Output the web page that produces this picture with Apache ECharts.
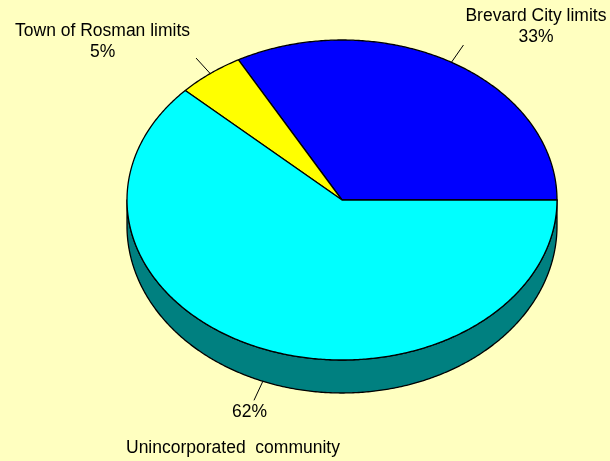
<!DOCTYPE html>
<html><head><meta charset="utf-8">
<script src="https://cdn.jsdelivr.net/npm/echarts@6/dist/echarts.min.js"></script>
<style>html,body{margin:0;padding:0;background:#FFFFC0}#c{width:610px;height:461px}</style>
</head><body><div id="c"></div>
<script>
const categories = ['Brevard City limits', 'Town of Rosman limits', 'Unincorporated  community'];
const values = [33, 5, 62];
const topColors = ['#0000FF', '#FFFF00', '#00FFFF'];
const sideColors = ['#000080', '#808000', '#008080'];

// top ellipse and (slightly larger, lower) bottom ellipse of the 3D pie
const G = { cx: 342, cy: 200, rx: 215, ry: 160, by: 226, bry: 167, leader: 21 };
const FONT = '17.5px "Liberation Sans", Arial, sans-serif';
const LH = 21;

const meas = document.createElement('canvas').getContext('2d');
meas.font = FONT;
const tw = s => meas.measureText(s).width;

function renderItem(params, api) {
  const i = params.dataIndex;
  const v = api.value(0);
  const total = values.reduce((a, b) => a + b, 0);
  let before = 0;
  for (let k = 0; k < i; k++) before += values[k];
  const a0 = before / total * 360, a1 = (before + v) / total * 360;
  const rad = d => d * Math.PI / 180;
  const pt = d => [G.cx + G.rx * Math.cos(rad(d)), G.cy - G.ry * Math.sin(rad(d))];
  const bpt = d => [G.cx + G.rx * Math.cos(rad(d)), G.by - G.bry * Math.sin(rad(d))];
  const children = [];
  // side (front, visible between 180 and 360 deg)
  const s0 = Math.max(a0, 180), s1 = Math.min(a1, 360);
  if (s1 > s0) {
    const pts = [];
    for (let d = s0; d < s1; d += 0.5) pts.push(pt(d));
    pts.push(pt(s1));
    for (let d = s1; d > s0; d -= 0.5) pts.push(bpt(d));
    pts.push(bpt(s0));
    children.push({ type: 'polygon', z2: 1, shape: { points: pts },
      style: { fill: sideColors[i], stroke: '#000', lineWidth: 1.3, lineJoin: 'round' } });
  }
  // top
  const top = [[G.cx, G.cy]];
  for (let d = a0; d < a1; d += 0.5) top.push(pt(d));
  top.push(pt(a1));
  children.push({ type: 'polygon', z2: 5, shape: { points: top },
    style: { fill: topColors[i], stroke: '#000', lineWidth: 1.3, lineJoin: 'round' } });
  // leader line
  const mid = (a0 + a1) / 2;
  const sn = Math.sin(rad(mid)), cs = Math.cos(rad(mid));
  const p = sn < 0 ? bpt(mid) : pt(mid);
  let dx = cs, dy = -0.85 * sn;
  const L = Math.hypot(dx, dy); dx /= L; dy /= L;
  const e = [p[0] + dx * G.leader, p[1] + dy * G.leader];
  children.push({ type: 'line', z2: 6, shape: { x1: p[0], y1: p[1], x2: e[0], y2: e[1] },
    style: { stroke: '#000', lineWidth: 1 } });
  const pct = Math.round(v / total * 100) + '%';
  const name = categories[i];
  if (sn >= 0) {
    const w = tw(name);
    const x = cs >= 0 ? e[0] + 2 + w / 2 : e[0] - 6 - w / 2;
    children.push({ type: 'text', z2: 7, style: { text: name + '\n' + pct, x: x, y: cs >= 0 ? e[1] + 3 : e[1] + 5,
      align: 'center', verticalAlign: 'bottom', font: FONT, lineHeight: LH, fill: '#000' } });
  } else {
    children.push({ type: 'text', z2: 7, style: { text: pct, x: e[0] - 4.5, y: e[1] + 1,
      align: 'center', verticalAlign: 'top', font: FONT, lineHeight: LH, fill: '#000' } });
    children.push({ type: 'text', z2: 7, style: { text: name, x: e[0] - 21, y: e[1] + 48,
      align: 'center', verticalAlign: 'middle', font: FONT, lineHeight: LH, fill: '#000' } });
  }
  return { type: 'group', children: children };
}

const chart = echarts.init(document.getElementById('c'), null, { renderer: 'canvas' });
chart.setOption({
  backgroundColor: '#FFFFC0',
  animation: false,
  series: [{
    type: 'custom',
    coordinateSystem: 'none',
    renderItem: renderItem,
    data: values.map((v, i) => ({ value: [v], name: categories[i] }))
  }]
});
</script></body></html>
